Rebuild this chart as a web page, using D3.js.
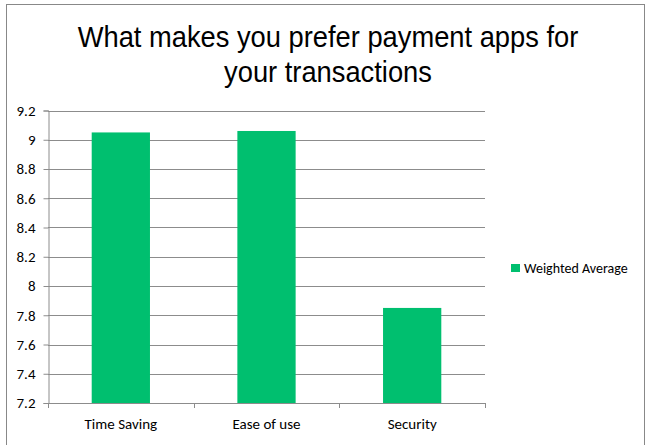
<!DOCTYPE html>
<html><head><meta charset="utf-8">
<script src="https://cdn.jsdelivr.net/npm/d3@7"></script>
<style>body{margin:0;background:#fff}svg{display:block}</style>
</head><body>
<script>
const categories = ["Time Saving", "Ease of use", "Security"];
const values = [9.05, 9.06, 7.85];
const yTicks = [7.2, 7.4, 7.6, 7.8, 8, 8.2, 8.4, 8.6, 8.8, 9, 9.2];
const seriesName = "Weighted Average";
const titleLines = ["What makes you prefer payment apps for", "your transactions"];

const W = 647, H = 445;
const FONT = "Carlito, 'Open Sans', sans-serif";
const svg = d3.select("body").append("svg").attr("width", W).attr("height", H);
svg.append("rect").attr("x", 6.5).attr("y", 4.5).attr("width", 638).attr("height", 445)
  .attr("fill", "#fff").attr("stroke", "#888").attr("stroke-width", 1);

const pL = 48, pR = 485, pT = 110.5, pB = 403;
const x = d3.scaleBand().domain(categories).range([pL, pR]).paddingInner(0.6).paddingOuter(0.3);
const y = d3.scaleLinear().domain([7.2, 9.2]).range([pB, pT]);

svg.selectAll("text.title").data(titleLines).enter().append("text")
  .attr("transform", (d, i) => `translate(328,${47 + i * 35}) scale(0.91,1)`)
  .attr("text-anchor", "middle").attr("font-family", "Liberation Sans, Arial, sans-serif")
  .attr("font-size", 30).attr("fill", "#000").text(d => d);

// gridlines
svg.append("g").selectAll("line").data(yTicks.slice(1)).enter().append("line")
  .attr("x1", pL).attr("x2", pR).attr("y1", d => Math.round(y(d)) + 0.5).attr("y2", d => Math.round(y(d)) + 0.5)
  .attr("stroke", "#8c8c8c").attr("stroke-width", 1);

// y axis
const yAxis = svg.append("g").attr("transform", `translate(${pL + 0.5},0)`)
  .call(d3.axisLeft(y).tickValues(yTicks).tickSize(5).tickPadding(8).tickFormat(d => String(d)));
yAxis.selectAll("line,path").attr("stroke", "#8c8c8c");
yAxis.selectAll("text").attr("font-family", FONT).attr("font-size", 15).attr("fill", "#000");

// bars
svg.selectAll("rect.bar").data(categories).enter().append("rect")
  .attr("x", d => x(d)).attr("width", x.bandwidth())
  .attr("y", (d, i) => y(values[i])).attr("height", (d, i) => pB - y(values[i]))
  .attr("fill", "#00bf6f");

// x axis
const xAxis = svg.append("g").attr("transform", `translate(0,${pB + 0.5})`)
  .call(d3.axisBottom(x).tickSize(0).tickPadding(15));
xAxis.select("path").attr("stroke", "#8c8c8c").attr("d", `M${pL},0H${pR}`);
xAxis.selectAll("text").attr("font-family", FONT).attr("font-size", 15).attr("fill", "#000");
const step = (pR - pL) / 3;
svg.append("g").selectAll("line").data(d3.range(4)).enter().append("line")
  .attr("x1", d => Math.round(pL + d * step) + 0.5).attr("x2", d => Math.round(pL + d * step) + 0.5)
  .attr("y1", pB).attr("y2", pB + 5).attr("stroke", "#8c8c8c");

// legend
svg.append("rect").attr("x", 511).attr("y", 264).attr("width", 9).attr("height", 8).attr("fill", "#00bf6f");
svg.append("text").attr("x", 524).attr("y", 273).attr("font-family", FONT)
  .attr("font-size", 14).attr("fill", "#000").text(seriesName);
</script>
</body></html>
